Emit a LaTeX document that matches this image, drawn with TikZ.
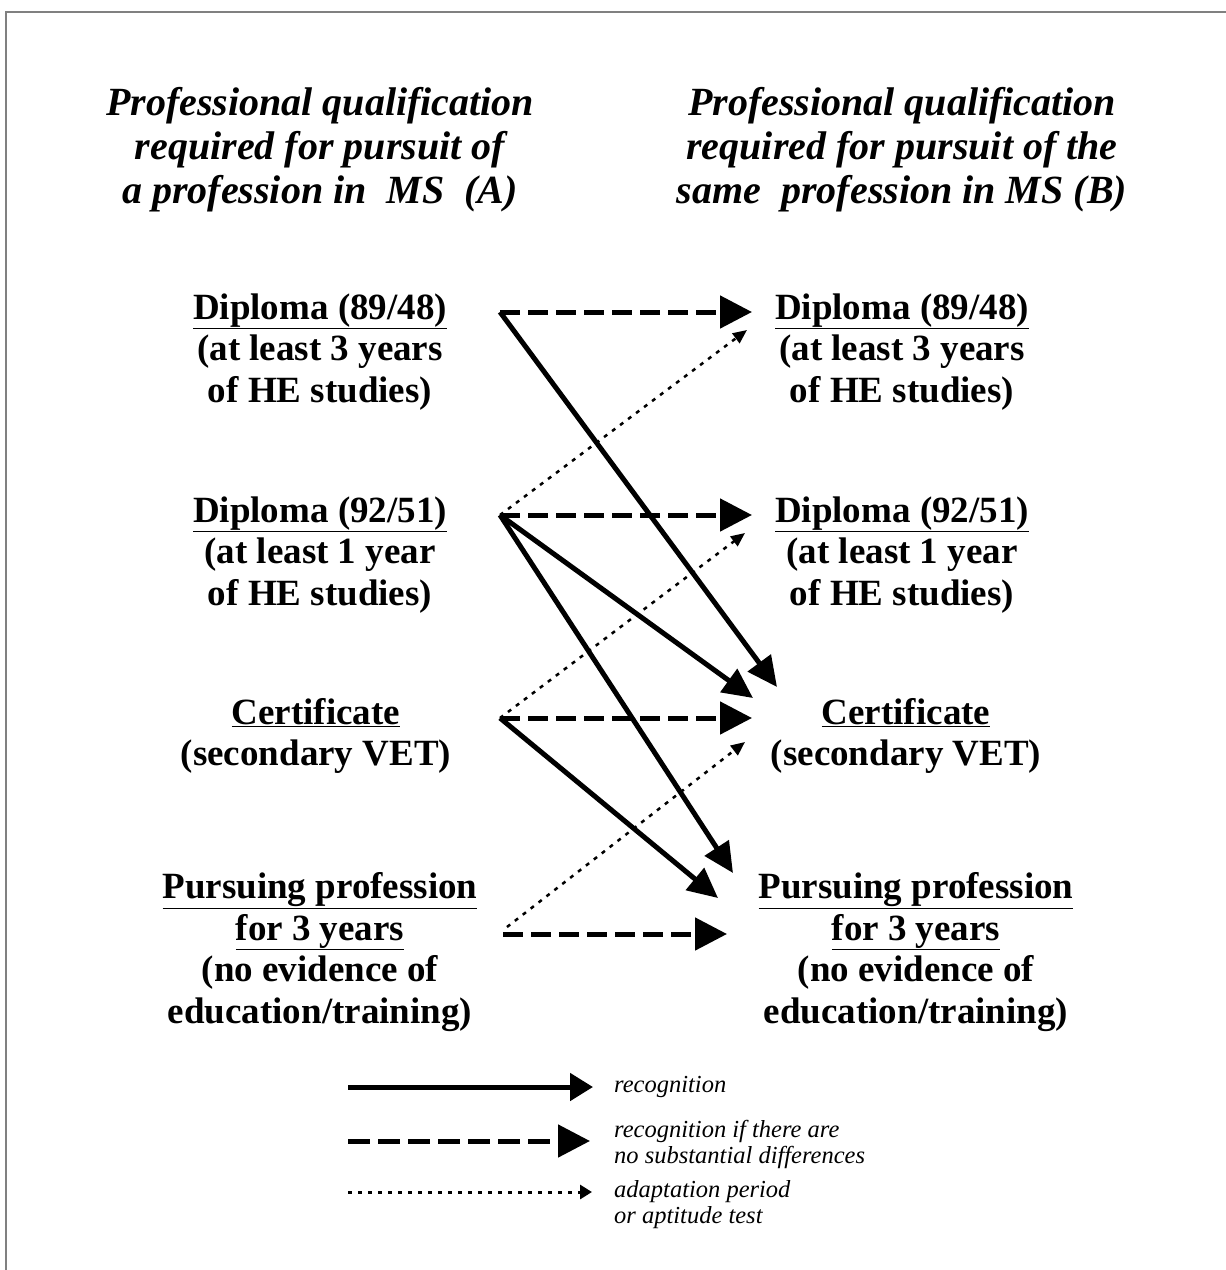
\documentclass[tikz,border=0pt]{standalone}
\usepackage{fontspec}
\setmainfont{Liberation Serif}
\usetikzlibrary{arrows.meta}
\begin{document}
\begin{tikzpicture}[x=1pt,y=-1pt,
 lbl/.style={align=center,font=\fontsize{37}{41.5}\selectfont\bfseries,inner sep=0pt},
 ttl/.style={align=center,font=\fontsize{40}{44}\selectfont\bfseries\itshape,inner sep=0pt},
 leg/.style={align=left,anchor=west,font=\fontsize{24.5}{25.5}\selectfont\itshape,inner sep=0pt},
 rec/.style={line width=5pt,-{Triangle[length=30pt,width=28pt]}},
 sub/.style={line width=5pt,dash pattern=on 20pt off 8pt,-{Triangle[length=32pt,width=32pt]}},
 apt/.style={line width=2.5pt,dash pattern=on 4pt off 6pt,-{Triangle[length=14pt,width=12pt]}},
 frame/.style={draw=black!50,line width=2pt}
]
\useasboundingbox (0,0) rectangle (1226,1270);
\draw[frame] (1230,12) -- (6,12) -- (6,1275);

% titles
\node[ttl] (tA) at (320,150) {Professional qualification\\required for pursuit of\\a profession in\ \ MS\ \ (A)};
\node[ttl] (tB) at (902,150) {Professional qualification\\required for pursuit of the\\same\ \ profession in MS (B)};

% left column
\node[lbl] (a1) at (320,352) {\underline{Diploma (89/48)}\\(at least 3 years\\of HE studies)};
\node[lbl] (a2) at (320,555) {\underline{Diploma (92/51)}\\(at least 1 year\\of HE studies)};
\node[lbl] (a3) at (316,736) {\underline{Certificate}\\(secondary VET)};
\node[lbl] (a4) at (320,952) {\underline{Pursuing profession}\\\underline{for 3 years}\\(no evidence of\\education/training)};

% right column
\node[lbl] (b1) at (902,352) {\underline{Diploma (89/48)}\\(at least 3 years\\of HE studies)};
\node[lbl] (b2) at (902,555) {\underline{Diploma (92/51)}\\(at least 1 year\\of HE studies)};
\node[lbl] (b3) at (906,736) {\underline{Certificate}\\(secondary VET)};
\node[lbl] (b4) at (916,952) {\underline{Pursuing profession}\\\underline{for 3 years}\\(no evidence of\\education/training)};

% ports
\coordinate (a1o) at (500,312);
\coordinate (a2o) at (500,515);
\coordinate (a3o) at (500,718);
\coordinate (a4d) at (507,927);
\coordinate (a4o) at (503,934);

\coordinate (b1i) at (752,312);
\coordinate (b1t) at (747,330);
\coordinate (b2i) at (752,515);
\coordinate (b2t) at (745,533);
\coordinate (b3i) at (752,718);
\coordinate (b3t) at (745,742);
\coordinate (b3a) at (777,687);
\coordinate (b3b) at (753,698);
\coordinate (b4a) at (733,873);
\coordinate (b4b) at (718,898);
\coordinate (b4i) at (727,934);

% connectors
\draw[sub] (a1o) -- (b1i);
\draw[rec] (a1o) -- (b3a);
\draw[apt] (a2o) -- (b1t);
\draw[sub] (a2o) -- (b2i);
\draw[rec] (a2o) -- (b3b);
\draw[rec] (a2o) -- (b4a);
\draw[apt] (a3o) -- (b2t);
\draw[sub] (a3o) -- (b3i);
\draw[rec] (a3o) -- (b4b);
\draw[apt] (a4d) -- (b3t);
\draw[sub] (a4o) -- (b4i);

% legend
\coordinate (l1s) at (348,1087); \coordinate (l1e) at (593,1087);
\coordinate (l2s) at (348,1141); \coordinate (l2e) at (590,1141);
\coordinate (l3s) at (348,1192); \coordinate (l3e) at (592,1192);
\draw[line width=5pt,-{Triangle[length=23pt,width=27pt]}] (l1s) -- (l1e);
\draw[line width=5pt,dash pattern=on 22pt off 8pt,-{Triangle[length=32pt,width=32pt]}] (l2s) -- (l2e);
\draw[line width=3pt,dash pattern=on 4pt off 6pt,-{Triangle[length=12pt,width=14pt]}] (l3s) -- (l3e);
\node[leg] (g1) at (614,1087) {recognition};
\node[leg] (g2) at (614,1144.5) {recognition if there are\\no substantial differences};
\node[leg] (g3) at (614,1204.5) {adaptation period\\or aptitude test};
\end{tikzpicture}
\end{document}
